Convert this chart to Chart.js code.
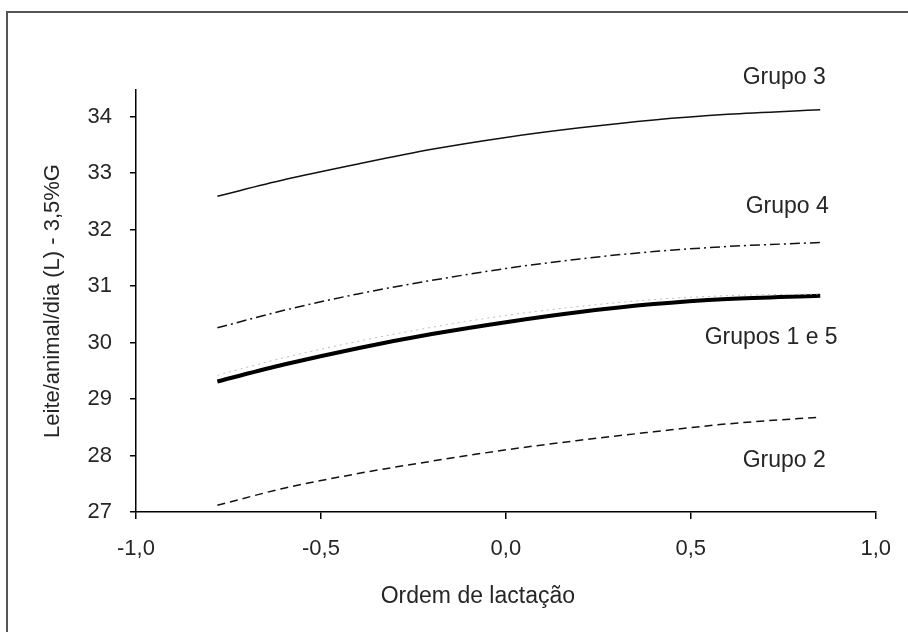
<!DOCTYPE html>
<html>
<head>
<meta charset="utf-8">
<script src="https://cdn.jsdelivr.net/npm/chart.js@4.4.1/dist/chart.umd.min.js"></script>
<style>
  html, body { margin: 0; padding: 0; background: #fff; }
  #wrap { position: relative; width: 908px; height: 632px; overflow: hidden; }
  #frame { position: absolute; left: 6px; top: 11px; width: 1000px; height: 1000px;
           border-left: 2px solid #555; border-top: 2px solid #555; box-sizing: border-box; }
  canvas { position: absolute; left: 0; top: 0; }
</style>
</head>
<body>
<div id="wrap">
  <div id="frame"></div>
  <canvas id="c" width="908" height="632"></canvas>
</div>
<script>
// X positions (Ordem de lactação)
const xValues = [-0.78, -0.6, -0.4, -0.2, 0.0, 0.2, 0.4, 0.6, 0.85];
// Series (Leite/animal/dia (L) - 3,5%G)
const grupo3   = [32.59, 32.88, 33.16, 33.42, 33.63, 33.80, 33.94, 34.04, 34.12];
const grupo4   = [30.26, 30.57, 30.86, 31.10, 31.31, 31.48, 31.61, 31.70, 31.77];
const grupo1e5 = [29.31, 29.61, 29.90, 30.15, 30.36, 30.54, 30.68, 30.77, 30.83];
const grupo5b  = [29.42, 29.73, 30.02, 30.27, 30.48, 30.64, 30.76, 30.83, 30.86];
const grupo2   = [27.12, 27.42, 27.68, 27.90, 28.10, 28.27, 28.42, 28.56, 28.68];
// Axis ticks
const xTicks = [-1.0, -0.5, 0.0, 0.5, 1.0];
const yTicks = [27, 28, 29, 30, 31, 32, 33, 34];
// Curve labels (text, x at right edge, y at middle)
const labelTexts = ["Grupo 3", "Grupo 4", "Grupos 1 e 5", "Grupo 2"];
const labelX = [0.865, 0.873, 0.897, 0.865];
const labelY = [34.69, 32.41, 30.09, 27.91];
const xTitle = "Ordem de lactação";
const yTitle = "Leite/animal/dia (L) - 3,5%G";

const FONT = "'Liberation Sans', Arial, sans-serif";
const TXT = '#262626';
const pts = arr => xValues.map((x, i) => ({ x: x, y: arr[i] }));

const labelPlugin = {
  id: 'curveLabels',
  afterDatasetsDraw(chart) {
    const ctx = chart.ctx, xs = chart.scales.x, ys = chart.scales.y, ca = chart.chartArea;
    ctx.save();
    ctx.font = "23px " + FONT;
    ctx.fillStyle = TXT;
    ctx.textAlign = 'right';
    ctx.textBaseline = 'middle';
    labelTexts.forEach((t, i) => {
      ctx.fillText(t, xs.getPixelForValue(labelX[i]), ys.getPixelForValue(labelY[i]));
    });
    // x-axis title (slightly left of the axis centre, as in the original)
    ctx.textAlign = 'center';
    ctx.fillText(xTitle, (ca.left + ca.right) / 2 - 28, ca.bottom + 85);
    ctx.restore();
  }
};

const common = { pointRadius: 0, tension: 0.4, cubicInterpolationMode: 'monotone', fill: false };

new Chart(document.getElementById('c'), {
  type: 'line',
  data: {
    datasets: [
      Object.assign({ label: 'Grupo 5', data: pts(grupo5b), borderColor: '#bdbdbd', borderWidth: 1, borderDash: [2, 4] }, common),
      Object.assign({ label: 'Grupo 3', data: pts(grupo3), borderColor: '#111', borderWidth: 1.5 }, common),
      Object.assign({ label: 'Grupo 4', data: pts(grupo4), borderColor: '#111', borderWidth: 1.5, borderDash: [10, 4, 2, 4] }, common),
      Object.assign({ label: 'Grupos 1 e 5', data: pts(grupo1e5), borderColor: '#000', borderWidth: 4 }, common),
      Object.assign({ label: 'Grupo 2', data: pts(grupo2), borderColor: '#111', borderWidth: 1.5, borderDash: [8, 5] }, common)
    ]
  },
  options: {
    responsive: false,
    animation: false,
    layout: { padding: { left: 0, top: 90, right: 31, bottom: 0 } },
    plugins: { legend: { display: false }, tooltip: { enabled: false } },
    scales: {
      x: {
        type: 'linear', min: -1, max: 1,
        afterBuildTicks: s => { s.ticks = xTicks.map(v => ({ value: v })); },
        afterFit: s => { s.height = 120; },
        ticks: {
          font: { family: FONT, size: 22 }, color: TXT, padding: 17,
          callback: v => v.toFixed(1).replace('.', ',')
        },
        grid: { display: true, drawOnChartArea: false, drawTicks: true, tickLength: 7, color: '#000', lineWidth: 1.5 },
        border: { display: true, color: '#000', width: 1.5 },
        title: { display: false, text: xTitle }
      },
      y: {
        type: 'linear', min: 27, max: 34.47,
        afterBuildTicks: s => { s.ticks = yTicks.map(v => ({ value: v })); },
        afterFit: s => { s.width = 136; },
        ticks: {
          font: { family: FONT, size: 22 }, color: TXT, padding: 18,
          callback: v => String(v)
        },
        grid: { display: true, drawOnChartArea: false, drawTicks: true, tickLength: 6, color: '#000', lineWidth: 1.5 },
        border: { display: true, color: '#000', width: 1.5 },
        title: { display: true, text: yTitle, font: { family: FONT, size: 22 }, color: TXT, padding: { top: 40, bottom: 0 } }
      }
    }
  },
  plugins: [labelPlugin]
});
</script>
</body>
</html>
